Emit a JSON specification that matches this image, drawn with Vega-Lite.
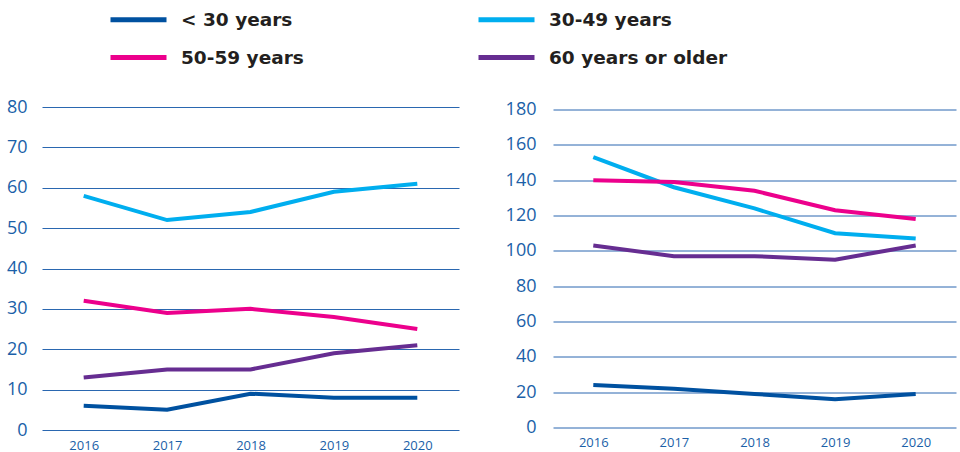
{
  "$schema": "https://vega.github.io/schema/vega-lite/v6.json",
  "background": "white",
  "padding": {"left": 6, "top": 3, "right": 5, "bottom": 5},
  "datasets": {
    "left": [
      {"year": "2016", "group": "< 30 years", "value": 6},
      {"year": "2017", "group": "< 30 years", "value": 5},
      {"year": "2018", "group": "< 30 years", "value": 9},
      {"year": "2019", "group": "< 30 years", "value": 8},
      {"year": "2020", "group": "< 30 years", "value": 8},
      {"year": "2016", "group": "30-49 years", "value": 58},
      {"year": "2017", "group": "30-49 years", "value": 52},
      {"year": "2018", "group": "30-49 years", "value": 54},
      {"year": "2019", "group": "30-49 years", "value": 59},
      {"year": "2020", "group": "30-49 years", "value": 61},
      {"year": "2016", "group": "50-59 years", "value": 32},
      {"year": "2017", "group": "50-59 years", "value": 29},
      {"year": "2018", "group": "50-59 years", "value": 30},
      {"year": "2019", "group": "50-59 years", "value": 28},
      {"year": "2020", "group": "50-59 years", "value": 25},
      {"year": "2016", "group": "60 years or older", "value": 13},
      {"year": "2017", "group": "60 years or older", "value": 15},
      {"year": "2018", "group": "60 years or older", "value": 15},
      {"year": "2019", "group": "60 years or older", "value": 19},
      {"year": "2020", "group": "60 years or older", "value": 21}
    ],
    "right": [
      {"year": "2016", "group": "< 30 years", "value": 24},
      {"year": "2017", "group": "< 30 years", "value": 22},
      {"year": "2018", "group": "< 30 years", "value": 19},
      {"year": "2019", "group": "< 30 years", "value": 16},
      {"year": "2020", "group": "< 30 years", "value": 19},
      {"year": "2016", "group": "30-49 years", "value": 153},
      {"year": "2017", "group": "30-49 years", "value": 136},
      {"year": "2018", "group": "30-49 years", "value": 124},
      {"year": "2019", "group": "30-49 years", "value": 110},
      {"year": "2020", "group": "30-49 years", "value": 107},
      {"year": "2016", "group": "50-59 years", "value": 140},
      {"year": "2017", "group": "50-59 years", "value": 139},
      {"year": "2018", "group": "50-59 years", "value": 134},
      {"year": "2019", "group": "50-59 years", "value": 123},
      {"year": "2020", "group": "50-59 years", "value": 118},
      {"year": "2016", "group": "60 years or older", "value": 103},
      {"year": "2017", "group": "60 years or older", "value": 97},
      {"year": "2018", "group": "60 years or older", "value": 97},
      {"year": "2019", "group": "60 years or older", "value": 95},
      {"year": "2020", "group": "60 years or older", "value": 103}
    ]
  },
  "config": {
    "view": {"stroke": null},
    "font": "Open Sans",
    "axis": {
      "domain": false,
      "ticks": false,
      "labelColor": "#1b5fa8",
      "labelFont": "Open Sans",
      "title": null,
      "gridColor": "#2a67b0",
      "gridWidth": 1,
      "gridOpacity": 1
    },
    "legend": {
      "orient": "none",
      "legendX": 80,
      "legendY": -104,
      "columns": 2,
      "columnPadding": 164,
      "rowPadding": 11,
      "symbolType": "M-2,0H2",
      "symbolSize": 784,
      "symbolStrokeWidth": 5,
      "labelFont": "DejaVu Sans",
      "labelFontWeight": "bold",
      "labelFontSize": 18.5,
      "labelColor": "#231f20",
      "labelOffset": 26,
      "labelLimit": 300,
      "title": null,
      "padding": 0
    }
  },
  "spacing": 46,
  "center": true,
  "hconcat": [
    {
      "data": {"name": "left"},
      "width": 417,
      "height": 323,
      "mark": {"type": "line", "strokeWidth": 4},
      "encoding": {
        "x": {
          "field": "year", "type": "ordinal",
          "scale": {"type": "point", "padding": 0.5},
          "axis": {"labelAngle": 0, "labelFontSize": 13, "labelPadding": 9, "grid": false}
        },
        "y": {
          "field": "value", "type": "quantitative",
          "scale": {"domain": [0, 80], "nice": false},
          "axis": {"values": [0, 10, 20, 30, 40, 50, 60, 70, 80], "labelFontSize": 18, "labelPadding": 15, "grid": true}
        },
        "color": {
          "field": "group", "type": "nominal",
          "scale": {
            "domain": ["< 30 years", "50-59 years", "30-49 years", "60 years or older"],
            "range": ["#0051a0", "#ec008c", "#00aeef", "#662d91"]
          }
        }
      }
    },
    {
      "data": {"name": "right"},
      "width": 403,
      "height": 318,
      "mark": {"type": "line", "strokeWidth": 4},
      "encoding": {
        "x": {
          "field": "year", "type": "ordinal",
          "scale": {"type": "point", "padding": 0.5},
          "axis": {"labelAngle": 0, "labelFontSize": 13, "labelPadding": 9, "grid": false}
        },
        "y": {
          "field": "value", "type": "quantitative",
          "scale": {"domain": [0, 180], "nice": false},
          "axis": {"values": [0, 20, 40, 60, 80, 100, 120, 140, 160, 180], "labelFontSize": 18, "labelPadding": 17, "grid": true}
        },
        "color": {
          "field": "group", "type": "nominal",
          "scale": {
            "domain": ["< 30 years", "50-59 years", "30-49 years", "60 years or older"],
            "range": ["#0051a0", "#ec008c", "#00aeef", "#662d91"]
          }
        }
      }
    }
  ]
}
